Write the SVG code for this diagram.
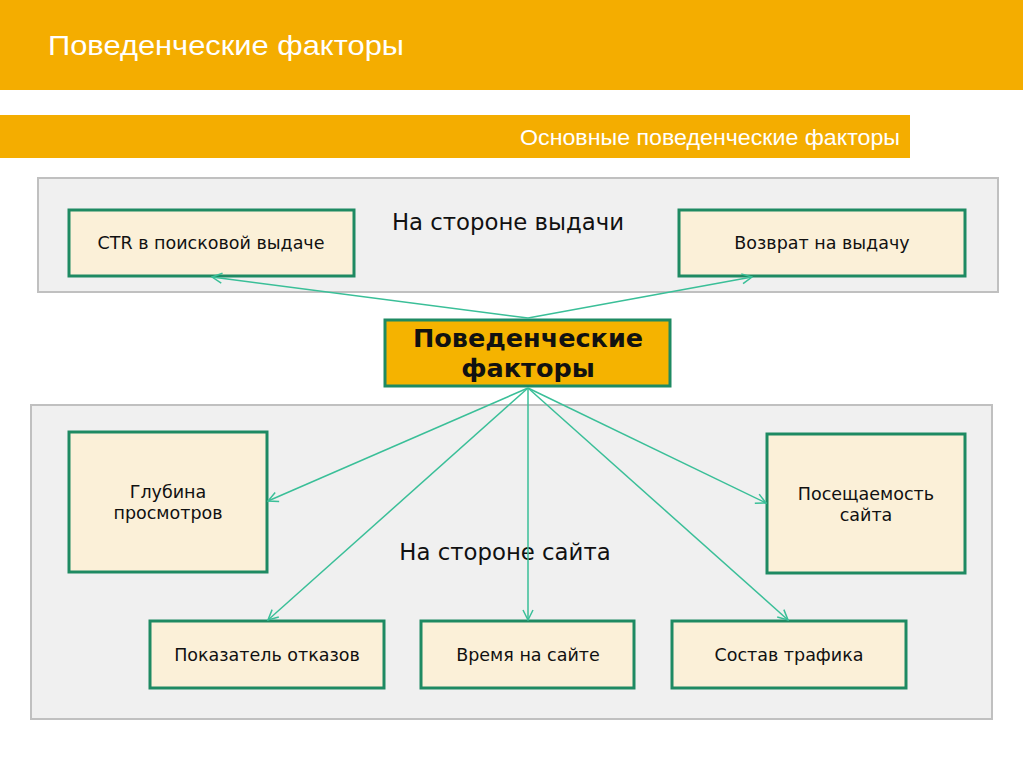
<svg xmlns="http://www.w3.org/2000/svg" width="1023" height="767" viewBox="0 0 1023 767">
<defs>
<style>
.hdr{fill:#F4AD00}
.panel{fill:#F0F0F0;stroke:#C0C0C0;stroke-width:2}
.box{fill:#FBF0D8;stroke:#1E8A62;stroke-width:3}
.core{fill:#F5B300;stroke:#1E8A62;stroke-width:3}
.t{font-family:"DejaVu Sans",Verdana,sans-serif;font-size:17.5px;fill:#111;text-anchor:middle}
.lbl{font-family:"DejaVu Sans",Verdana,sans-serif;font-size:22.8px;fill:#111;text-anchor:middle}
.ct{font-family:"DejaVu Sans",Verdana,sans-serif;font-size:25.5px;font-weight:bold;fill:#111;text-anchor:middle}
.w{font-family:"Liberation Sans",Arial,sans-serif;fill:#fff}
.c{stroke:#3ABF98;stroke-width:1.5;fill:none;marker-end:url(#ah)}
</style>
<marker id="ah" viewBox="0 0 12 12" refX="11" refY="6" markerWidth="12" markerHeight="12" markerUnits="userSpaceOnUse" orient="auto">
<polyline points="1,1 11,6 1,11" fill="none" stroke="#3ABF98" stroke-width="1.5"/>
</marker>
</defs>
<rect width="1023" height="767" fill="#fff"/>
<g id="header">
<rect class="hdr" x="0" y="0" width="1023" height="90"/>
<text class="w" x="48" y="55" font-size="28" textLength="356" lengthAdjust="spacingAndGlyphs">Поведенческие факторы</text>
</g>
<g id="subheader">
<rect class="hdr" x="0" y="115" width="910" height="43"/>
<text class="w" x="900" y="145" font-size="21.5" text-anchor="end" textLength="380" lengthAdjust="spacingAndGlyphs">Основные поведенческие факторы</text>
</g>
<g id="panel-serp">
<rect class="panel" x="38" y="178" width="960" height="114"/>
<text class="lbl" x="508" y="230">На стороне выдачи</text>
</g>
<g id="panel-site">
<rect class="panel" x="31" y="405" width="961" height="314"/>
<text class="lbl" x="505" y="560">На стороне сайта</text>
</g>
<g id="node-ctr">
<rect class="box" x="69" y="210" width="285" height="66"/>
<text class="t" x="211" y="249">CTR в поисковой выдаче</text>
</g>
<g id="node-return">
<rect class="box" x="679" y="210" width="286" height="66"/>
<text class="t" x="822" y="249">Возврат на выдачу</text>
</g>
<g id="node-core">
<rect class="core" x="385" y="320" width="285" height="66"/>
<text class="ct" x="528" y="347">Поведенческие</text>
<text class="ct" x="528" y="377">факторы</text>
</g>
<g id="node-depth">
<rect class="box" x="69" y="432" width="198" height="140"/>
<text class="t" x="168" y="498">Глубина</text>
<text class="t" x="168" y="519">просмотров</text>
</g>
<g id="node-visits">
<rect class="box" x="767" y="434" width="198" height="139"/>
<text class="t" x="866" y="500">Посещаемость</text>
<text class="t" x="866" y="521">сайта</text>
</g>
<g id="node-bounce">
<rect class="box" x="150" y="621" width="234" height="67"/>
<text class="t" x="267" y="661">Показатель отказов</text>
</g>
<g id="node-time">
<rect class="box" x="421" y="621" width="213" height="67"/>
<text class="t" x="528" y="661">Время на сайте</text>
</g>
<g id="node-traffic">
<rect class="box" x="672" y="621" width="234" height="67"/>
<text class="t" x="789" y="661">Состав трафика</text>
</g>
<g id="connectors">
<line class="c" x1="528" y1="318" x2="212" y2="277"/>
<line class="c" x1="528" y1="318" x2="752" y2="277"/>
<line class="c" x1="528" y1="388" x2="268" y2="501"/>
<line class="c" x1="528" y1="388" x2="268" y2="620"/>
<line class="c" x1="528" y1="388" x2="528" y2="620"/>
<line class="c" x1="528" y1="388" x2="788" y2="620"/>
<line class="c" x1="528" y1="388" x2="766" y2="503"/>
</g>
</svg>
